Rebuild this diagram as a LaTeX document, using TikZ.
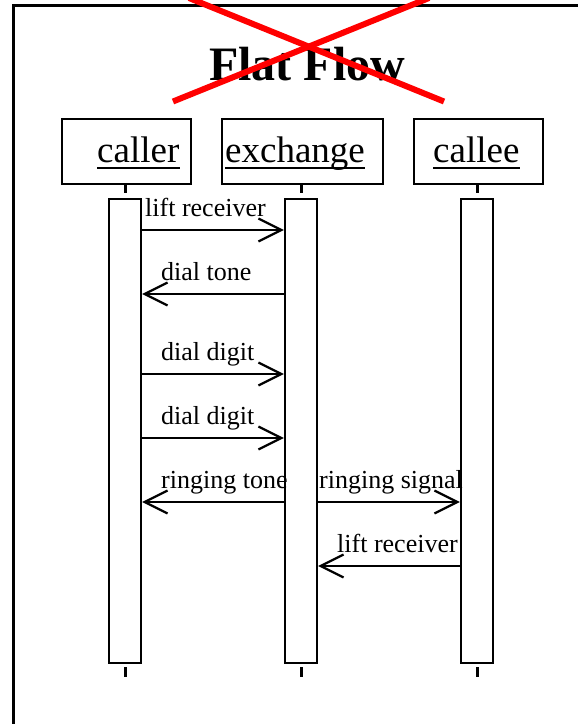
\documentclass[tikz,border=0pt]{standalone}
\usepackage{fontspec}
\setmainfont{Liberation Serif}
\usetikzlibrary{arrows.meta}
\begin{document}
\begin{tikzpicture}[x=1pt,y=-1pt,
  hdr/.style={draw,line width=2.2pt,minimum width=#1,minimum height=65pt,inner sep=0pt,anchor=north west},
  hdrtext/.style={font=\fontsize{37}{40}\selectfont,inner sep=0pt,anchor=base west},
  bar/.style={draw,line width=2.2pt,fill=white,minimum width=32pt,minimum height=464pt,inner sep=0pt,anchor=north},
  tick/.style={line width=3pt},
  msg/.style={line width=2.2pt,-{Straight Barb[length=23pt,width=23pt,line width=2.2pt]}},
  lbl/.style={font=\fontsize{26}{28}\selectfont,inner sep=0pt,anchor=base west},
  xline/.style={red,line width=6pt}]
\useasboundingbox (0,0) rectangle (578,724);
\clip (0,0) rectangle (578,724);
\fill[white] (0,0) rectangle (578,724);
% frame
\draw[line width=2.5pt] (13.5,750) -- (13.5,5.5) -- (620,5.5);
% title
\node[font=\bfseries\fontsize{48}{50}\selectfont,inner sep=0pt,anchor=base] (title) at (307,80) {Flat Flow};
% headers
\node[hdr=129pt] (hcaller) at (61,118) {};
\node[hdr=161pt] (hexch) at (221,118) {};
\node[hdr=129pt] (hcallee) at (413,118) {};
\node[hdrtext] (tcaller) at (97,162) {caller};
\node[hdrtext] (texch) at (225,162) {exchange};
\node[hdrtext] (tcallee) at (433,162) {callee};
\foreach \t in {tcaller,texch,tcallee}
  \draw[line width=2.5pt] ([yshift=-6pt]\t.base west) -- ([yshift=-6pt]\t.base east);
% lifelines
\node[bar] (bcaller) at (125,198) {};
\node[bar] (bexch) at (301,198) {};
\node[bar] (bcallee) at (477,198) {};
\foreach \b/\h in {bcaller/hcaller,bexch/hexch,bcallee/hcallee}{
  \coordinate (\b t) at (\b.north |- 0,193);
  \coordinate (\b u) at (\b.south |- 0,667);
  \coordinate (\b v) at (\b.south |- 0,677);
  \draw[tick] (\b.north |- \h.south) -- (\b t);
  \draw[tick] (\b u) -- (\b v);
}
% messages
\draw[msg] (bcaller.east |- 0,230) -- (bexch.west |- 0,230);
\node[lbl] (l1) at (145,216) {lift receiver};
\draw[msg] (bexch.west |- 0,294) -- (bcaller.east |- 0,294);
\node[lbl] (l2) at (161,280) {dial tone};
\draw[msg] (bcaller.east |- 0,374) -- (bexch.west |- 0,374);
\node[lbl] (l3) at (161,360) {dial digit};
\draw[msg] (bcaller.east |- 0,438) -- (bexch.west |- 0,438);
\node[lbl] (l4) at (161,424) {dial digit};
\draw[msg] (bexch.west |- 0,502) -- (bcaller.east |- 0,502);
\node[lbl] (l5) at (161,488) {ringing tone};
\draw[msg] (bexch.east |- 0,502) -- (bcallee.west |- 0,502);
\node[lbl] (l6) at (319,488) {ringing signal};
\draw[msg] (bcallee.west |- 0,566) -- (bexch.east |- 0,566);
\node[lbl] (l7) at (337,552) {lift receiver};
% red cross
\coordinate (xa1) at (173,101.5);
\coordinate (xa2) at (429,-2);
\coordinate (xb1) at (444,101.5);
\coordinate (xb2) at (189,-2);
\draw[xline] (xa1) -- (xa2);
\draw[xline] (xb1) -- (xb2);
\end{tikzpicture}
\end{document}
